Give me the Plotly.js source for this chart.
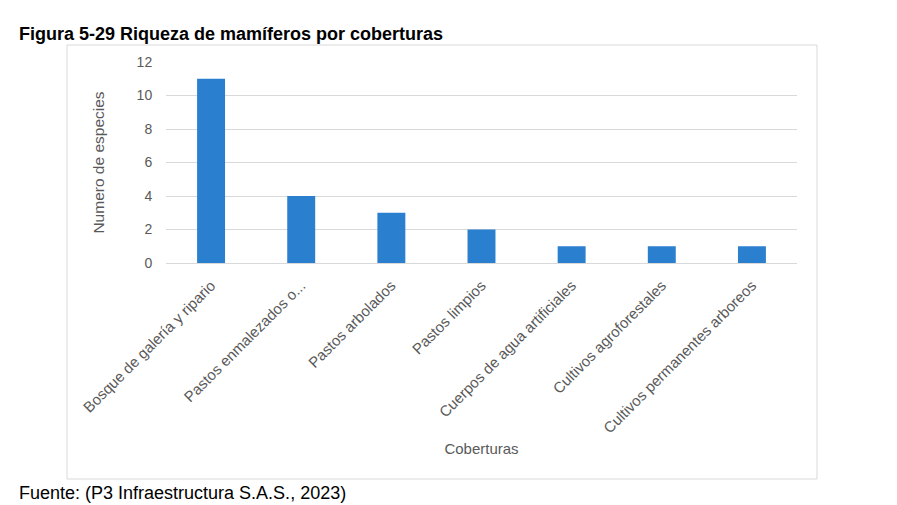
<!DOCTYPE html>
<html><head><meta charset="utf-8">
<script src="https://cdn.plot.ly/plotly-3.0.1.min.js"></script>
<style>html,body{margin:0;padding:0;background:#fff}#c{width:897px;height:505px}</style>
</head><body><div id="c"></div>
<script>
const categories = ["Bosque de galería y ripario","Pastos enmalezados o...","Pastos arbolados","Pastos limpios","Cuerpos de agua artificiales","Cultivos agroforestales","Cultivos permanentes arboreos"];
const values = [11, 4, 3, 2, 1, 1, 1];
const yTicks = [0, 2, 4, 6, 8, 10, 12];
const titleText = "Figura 5-29 Riqueza de mamíferos por coberturas";
const sourceText = "Fuente: (P3 Infraestructura S.A.S., 2023)";
const xTitle = "Coberturas";
const yTitle = "Numero de especies";

const W = 897, H = 505;
const m = {l:166, r:100, t:62, b:242};
const pw = W - m.l - m.r, ph = H - m.t - m.b;
const px = x => (x - m.l) / pw;
const py = y => (H - m.b - y) / ph;

const FONT = "Liberation Sans, Arial, sans-serif";
const data = [{
  type: 'bar', x: categories, y: values,
  marker: {color: '#2A7FCF'}, hoverinfo: 'x+y'
}];
const layout = {
  width: W, height: H, margin: m,
  paper_bgcolor: '#fff', plot_bgcolor: '#fff',
  showlegend: false, bargap: 0.69,
  font: {family: FONT, color: '#595959'},
  xaxis: {
    type: 'category', tickangle: -45, tickfont: {size: 15, color: '#595959'},
    showgrid: false, zeroline: false, showline: false, ticks: '',
    ticklabelstandoff: 10,
    title: {text: xTitle, font: {size: 15, color: '#595959'}, standoff: 8}
  },
  yaxis: {
    range: [0, 12], tickvals: yTicks, tickfont: {size: 14, color: '#595959'},
    gridcolor: '#d9d9d9', zeroline: true, zerolinecolor: '#d9d9d9', showline: false,
    ticks: 'outside', ticklen: 10, tickcolor: 'rgba(0,0,0,0)',
    title: {text: yTitle, font: {size: 15.5, color: '#595959'}, standoff: 28}
  },
  shapes: [{
    type: 'rect', xref: 'paper', yref: 'paper',
    x0: px(67), x1: px(817), y0: py(479), y1: py(45),
    line: {color: '#d9d9d9', width: 1}, fillcolor: 'rgba(0,0,0,0)', layer: 'below'
  }],
  annotations: [
    {text: '<b>' + titleText + '</b>', xref: 'paper', yref: 'paper', x: px(17), y: py(34),
     xanchor: 'left', yanchor: 'middle', showarrow: false, font: {family: FONT, size: 18, color: '#000'}},
    {text: sourceText, xref: 'paper', yref: 'paper', x: px(17), y: py(493),
     xanchor: 'left', yanchor: 'middle', showarrow: false, font: {family: FONT, size: 18, color: '#000'}}
  ]
};
Plotly.newPlot('c', data, layout, {displayModeBar: false, staticPlot: true});
</script></body></html>
